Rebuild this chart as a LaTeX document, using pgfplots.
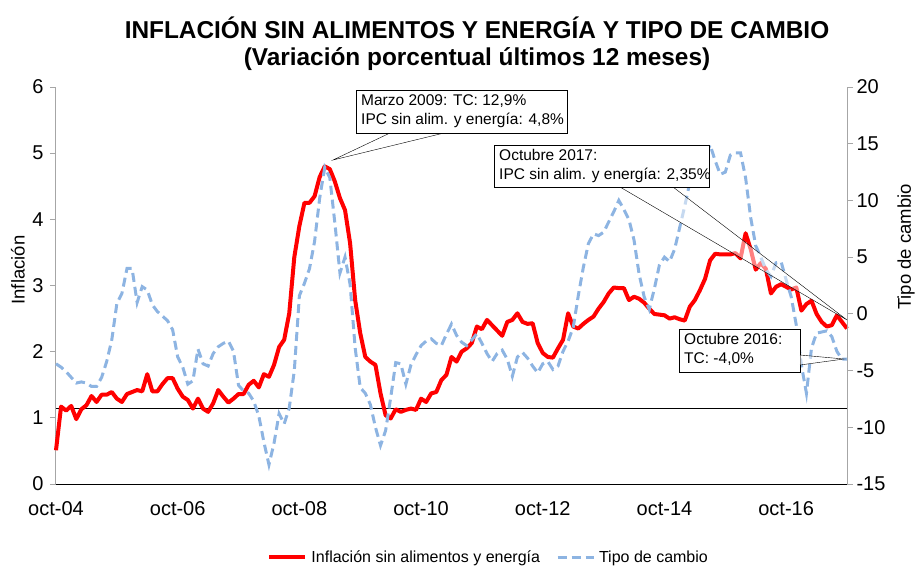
\documentclass[border=0pt]{standalone}
\usepackage{pgfplots}
\usepackage{pgfplotstable}
\usepackage{fontspec}
\setmainfont{Liberation Sans}
\pgfplotsset{compat=1.18}
\definecolor{infred}{HTML}{FF0000}
\definecolor{tcblue}{HTML}{8DB4E2}
\definecolor{axgray}{HTML}{A6A6A6}

% months since oct-04, value
\pgfplotstableread{
m v
0 0.51
1 1.17
2 1.11
3 1.18
4 0.98
5 1.13
6 1.19
7 1.33
8 1.24
9 1.35
10 1.35
11 1.39
12 1.29
13 1.24
14 1.36
15 1.39
16 1.42
17 1.40
18 1.66
19 1.40
20 1.40
21 1.51
22 1.60
23 1.60
24 1.44
25 1.32
26 1.27
27 1.14
28 1.29
29 1.14
30 1.09
31 1.22
32 1.42
33 1.32
34 1.23
35 1.29
36 1.36
37 1.36
38 1.50
39 1.56
40 1.46
41 1.66
42 1.62
43 1.80
44 2.07
45 2.18
46 2.58
47 3.43
48 3.90
49 4.25
50 4.25
51 4.35
52 4.64
53 4.80
54 4.76
55 4.57
56 4.32
57 4.14
58 3.64
59 2.78
60 2.28
61 1.92
62 1.85
63 1.80
64 1.37
65 1.04
66 0.99
67 1.13
68 1.09
69 1.12
70 1.14
71 1.12
72 1.29
73 1.24
74 1.37
75 1.39
76 1.57
77 1.65
78 1.92
79 1.85
80 2.00
81 2.05
82 2.13
83 2.38
84 2.34
85 2.48
86 2.40
87 2.32
88 2.24
89 2.45
90 2.48
91 2.58
92 2.45
93 2.42
94 2.43
95 2.13
96 1.98
97 1.92
98 1.91
99 2.05
100 2.18
101 2.58
102 2.38
103 2.35
104 2.42
105 2.48
106 2.53
107 2.65
108 2.75
109 2.88
110 2.97
111 2.96
112 2.96
113 2.78
114 2.83
115 2.80
116 2.74
117 2.65
118 2.57
119 2.56
120 2.55
121 2.50
122 2.52
123 2.49
124 2.47
125 2.68
126 2.78
127 2.93
128 3.10
129 3.38
130 3.48
131 3.47
132 3.47
133 3.47
134 3.49
135 3.41
136 3.79
137 3.55
138 3.24
139 3.34
140 3.25
141 2.88
142 2.98
143 3.02
144 2.98
145 2.94
146 2.97
147 2.62
148 2.72
149 2.77
150 2.57
151 2.45
152 2.38
153 2.40
154 2.55
155 2.45
156 2.35
}\inflacion

\pgfplotstableread{
m v
0 -4.4
1 -4.7
2 -5.1
3 -5.6
4 -6.1
5 -6.0
6 -6.1
7 -6.4
8 -6.4
9 -5.6
10 -4.2
11 -2.3
12 0.9
13 1.8
14 4.0
15 4.0
16 1.0
17 2.4
18 2.1
19 0.8
20 0.2
21 -0.2
22 -0.6
23 -1.4
24 -3.8
25 -4.7
26 -6.2
27 -5.9
28 -3.1
29 -4.4
30 -4.6
31 -3.5
32 -2.9
33 -2.6
34 -2.4
35 -3.3
36 -6.3
37 -6.8
38 -7.0
39 -7.7
40 -9.0
41 -11.3
42 -13.3
43 -11.4
44 -8.8
45 -9.7
46 -8.3
47 -5.0
48 1.6
49 2.7
50 4.0
51 6.4
52 10.2
53 12.9
54 12.0
55 8.0
56 3.6
57 5.0
58 2.6
59 -3.0
60 -6.5
61 -7.0
62 -8.0
63 -10.0
64 -11.6
65 -10.3
66 -7.4
67 -4.3
68 -4.4
69 -6.2
70 -4.5
71 -3.6
72 -2.8
73 -2.4
74 -2.2
75 -2.6
76 -2.8
77 -1.8
78 -0.9
79 -1.9
80 -2.5
81 -2.8
82 -2.3
83 -1.75
84 -2.6
85 -3.5
86 -4.2
87 -3.5
88 -3.2
89 -4.0
90 -5.5
91 -3.8
92 -3.4
93 -3.9
94 -4.6
95 -5.2
96 -4.4
97 -4.2
98 -4.9
99 -4.6
100 -3.3
101 -2.4
102 -1.2
103 1.6
104 4.1
105 6.2
106 7.05
107 6.9
108 7.2
109 8.1
110 9.0
111 10.0
112 9.2
113 8.3
114 6.5
115 3.5
116 1.5
117 0.4
118 2.2
119 4.3
120 5.0
121 4.6
122 5.7
123 7.6
124 9.5
125 11.6
126 12.3
127 12.9
128 13.8
129 14.9
130 13.5
131 12.3
132 12.5
133 14.0
134 14.2
135 14.2
136 12.0
137 8.5
138 6.0
139 5.0
140 3.9
141 3.3
142 4.5
143 4.6
144 3.0
145 1.5
146 -1.0
147 -4.5
148 -7.0
149 -3.0
150 -1.7
151 -1.6
152 -1.5
153 -2.0
154 -3.3
155 -4.0
156 -4.0
}\tipocambio

\pgfplotsset{
  base/.style={
    at={(56pt,-484pt)}, anchor=south west,
    scale only axis, width=791pt, height=397pt,
    xmin=0, xmax=156,
    tick label style={font=\fontsize{20}{22}\selectfont},
    label style={font=\fontsize{18.5}{20}\selectfont},
    /pgf/number format/assume math mode=true,
    /pgf/number format/use comma,
    tick align=outside, major tick length=6pt,
    clip=false,
  }
}

\begin{document}
\begin{tikzpicture}[x=1pt,y=1pt]
  % title
  \node[font=\fontsize{24.4}{27}\selectfont\bfseries, align=center] at (477,-43.5)
    {INFLACIÓN SIN ALIMENTOS Y ENERGÍA Y TIPO DE CAMBIO\\(Variación porcentual últimos 12 meses)};

  \begin{axis}[base,
    ymin=0, ymax=6, ytick={0,1,...,6},
    axis x line*=bottom, axis y line*=left,
    x axis line style={-, black, line width=1pt},
    y axis line style={-, axgray, line width=1pt},
    ytick style={axgray, line width=1pt},
    xtick style={draw=none},
    xtick={0,24,48,72,96,120,144},
    xticklabels={oct-04,oct-06,oct-08,oct-10,oct-12,oct-14,oct-16},
    xticklabel style={yshift=-8pt},
    yticklabel style={xshift=-3pt},
    ylabel={Inflación},
    ylabel style={at={(rel axis cs:-0.048,0.539)}, anchor=center},
  ]
    \addplot[black, line width=1pt] coordinates {(0,1.144) (156,1.144)};
    \addplot[infred, line width=4pt, line join=round] table[x=m, y=v] {\inflacion};
  \end{axis}

  \begin{axis}[base,
    ymin=-15, ymax=20, ytick={-15,-10,...,20},
    axis x line=none, axis y line*=right,
    y axis line style={-, axgray, line width=1pt},
    ytick style={axgray, line width=1pt},
    ylabel={Tipo de cambio},
    ylabel style={at={(rel axis cs:1.0746,0.597)}, anchor=center},
    legend columns=2,
    legend style={draw=none, fill=none, at={(rel axis cs:0.547,-0.184)}, anchor=center,
      font=\fontsize{16}{18}\selectfont, column sep=2pt,
      /tikz/every even column/.append style={column sep=14pt}},
    legend image code/.code={\draw[#1] (0pt,0pt) -- (36pt,0pt);},
  ]
    \addlegendimage{infred, line width=4pt}
    \addlegendentry{Inflación sin alimentos y energía}
    \addplot[tcblue, line width=3pt, dash pattern=on 9pt off 5pt] table[x=m, y=v] {\tipocambio};
    \addlegendentry{Tipo de cambio}
  \end{axis}

  % callouts
  \draw[black, fill=white, fill opacity=0.5] (390,-133) -- (333,-160) -- (444,-133);
  \draw[black, fill=white] (356,-90) rectangle (567,-133);
  \node[anchor=north west, align=left, inner sep=0pt, font=\fontsize{15.5}{19}\selectfont]
    at (361,-94) {Marzo 2009: TC: 12,9\%\\IPC sin alim. y energía: 4,8\%};

  \draw[black, fill=white, fill opacity=0.5] (620,-187) -- (847,-320) -- (673,-187);
  \draw[black, fill=white] (494,-145) rectangle (709,-187);
  \node[anchor=north west, align=left, inner sep=0pt, font=\fontsize{15.5}{19}\selectfont]
    at (499,-149) {Octubre 2017:\\IPC sin alim. y energía: 2,35\%};

  \draw[black, fill=white] (679,-329) rectangle (800,-372);
  \draw[black, fill=white, fill opacity=0.5] (800,-355) -- (844,-359) -- (800,-365);
  \node[anchor=north west, align=left, inner sep=0pt, font=\fontsize{15.5}{19}\selectfont]
    at (684,-333) {Octubre 2016:\\TC: -4,0\%};

  \pgfresetboundingbox
  \path[use as bounding box] (0,0) rectangle (921,-565);
\end{tikzpicture}
\end{document}
